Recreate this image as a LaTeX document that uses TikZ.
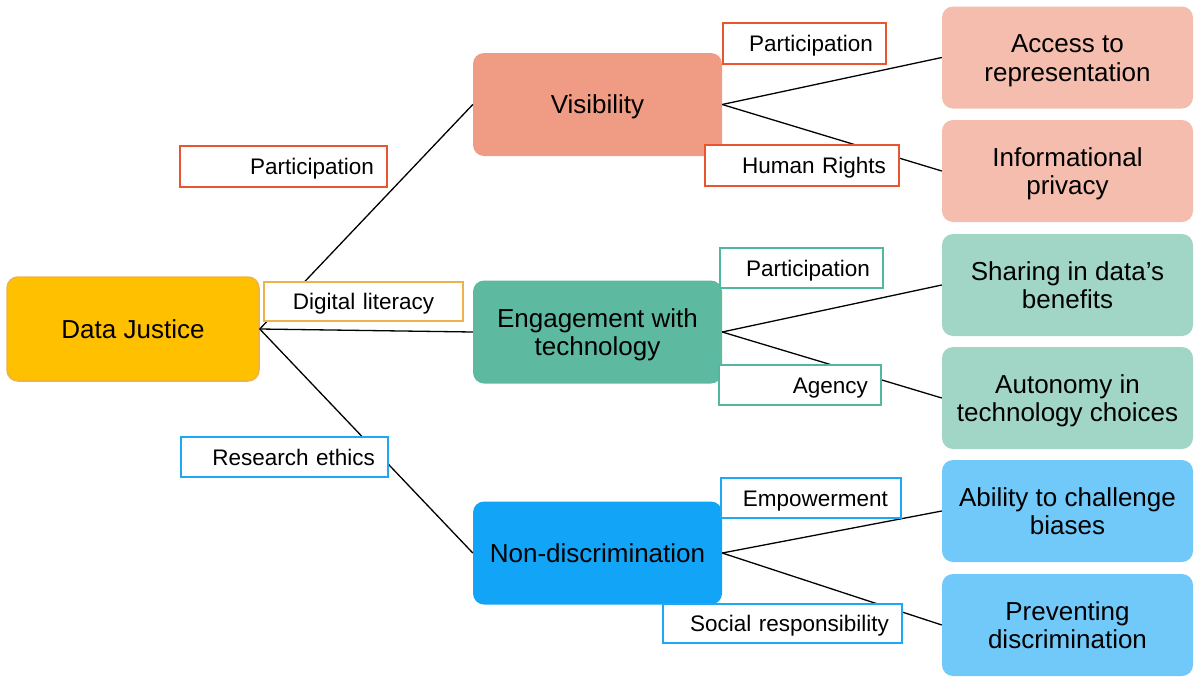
\documentclass[tikz,border=0pt]{standalone}
\usepackage{fontspec}
\setmainfont{Liberation Sans}
\definecolor{djfill}{HTML}{FFC000}
\definecolor{djline}{HTML}{EEB24C}
\definecolor{visfill}{HTML}{F09C84}
\definecolor{vislight}{HTML}{F4BDAD}
\definecolor{engfill}{HTML}{5DB9A0}
\definecolor{englight}{HTML}{A1D6C7}
\definecolor{ndfill}{HTML}{12A4F6}
\definecolor{ndlight}{HTML}{71C9F9}
\definecolor{lblred}{HTML}{E8552E}
\definecolor{lblgold}{HTML}{EDB24B}
\definecolor{lblteal}{HTML}{50B89F}
\definecolor{lblblue}{HTML}{1EA7F5}
\tikzset{
  mainbox/.style={rectangle, rounded corners=11pt, draw=none, align=center,
    minimum height=103pt, inner sep=2pt, text height=18.6pt, text depth=0pt,
    font=\fontsize{26}{28.5}\selectfont},
  twoline/.style={text height=47.1pt, text depth=0pt},
  leafbox/.style={mainbox, twoline, minimum width=251pt, minimum height=102pt},
  lblbox/.style={rectangle, draw, fill=white, align=right, inner xsep=13pt,
    inner ysep=0pt, minimum height=40pt, line width=2.4pt,
    text height=16.1pt, text depth=0pt,
    font=\fontsize{22.5}{24}\selectfont},
  conn/.style={draw=black, line width=1.3pt}
}
\begin{document}
\begin{tikzpicture}[x=1pt,y=-1pt]
\useasboundingbox (0,0) rectangle (1200,683);
% main nodes
\node[mainbox, fill=djfill, draw=djline, line width=1.5pt, minimum width=252pt, minimum height=104pt] (dj) at (133,329) {Data Justice};
\node[mainbox, fill=visfill, minimum width=249pt] (vis) at (597.5,104.5) {Visibility};
\node[mainbox, twoline, fill=engfill, minimum width=249pt] (eng) at (597.5,332) {Engagement with\\technology};
\node[mainbox, fill=ndfill, minimum width=249pt] (nd) at (597.5,553) {Non-discrimination};
% leaves
\node[leafbox, fill=vislight] (acc) at (1067.5,57.5) {Access to\\representation};
\node[leafbox, fill=vislight] (inf) at (1067.5,171) {Informational\\privacy};
\node[leafbox, fill=englight] (sha) at (1067.5,285) {Sharing in data’s\\benefits};
\node[leafbox, fill=englight] (aut) at (1067.5,398) {Autonomy in\\technology choices};
\node[leafbox, fill=ndlight] (abl) at (1067.5,511) {Ability to challenge\\biases};
\node[leafbox, fill=ndlight] (pre) at (1067.5,625) {Preventing\\discrimination};
% connectors
\draw[conn] (dj.east) -- (vis.west);
\draw[conn] (dj.east) -- (eng.west);
\draw[conn] (dj.east) -- (nd.west);
\draw[conn] (vis.east) -- (acc.west);
\draw[conn] (vis.east) -- (inf.west);
\draw[conn] (eng.east) -- (sha.west);
\draw[conn] (eng.east) -- (aut.west);
\draw[conn] (nd.east) -- (abl.west);
\draw[conn] (nd.east) -- (pre.west);
% labels
\node[lblbox, draw=lblred, text width=181pt, minimum height=41pt] (lp1) at (283.5,166.5) {Participation};
\node[lblbox, draw=lblgold, text width=173pt, align=center, minimum height=39pt] (ldl) at (363.5,301.5) {Digital literacy};
\node[lblbox, draw=lblblue, line width=2.6pt, text width=181pt] (lre) at (284.5,457) {Research ethics};
\node[lblbox, draw=lblred, text width=137pt, minimum height=41pt] (lp2) at (804.5,43.5) {Participation};
\node[lblbox, draw=lblred, text width=168pt, minimum height=41pt] (lhr) at (802,165.5) {Human Rights};
\node[lblbox, draw=lblteal, line width=2pt, text width=137pt] (lp3) at (801.5,268) {Participation};
\node[lblbox, draw=lblteal, line width=2pt, text width=136pt] (lag) at (800,385) {Agency};
\node[lblbox, draw=lblblue, line width=1.4pt, text width=154pt] (lem) at (811,498) {Empowerment};
\node[lblbox, draw=lblblue, line width=1.4pt, text width=213pt, minimum height=39pt] (lsr) at (782.5,623.5) {Social responsibility};
\end{tikzpicture}
\end{document}
